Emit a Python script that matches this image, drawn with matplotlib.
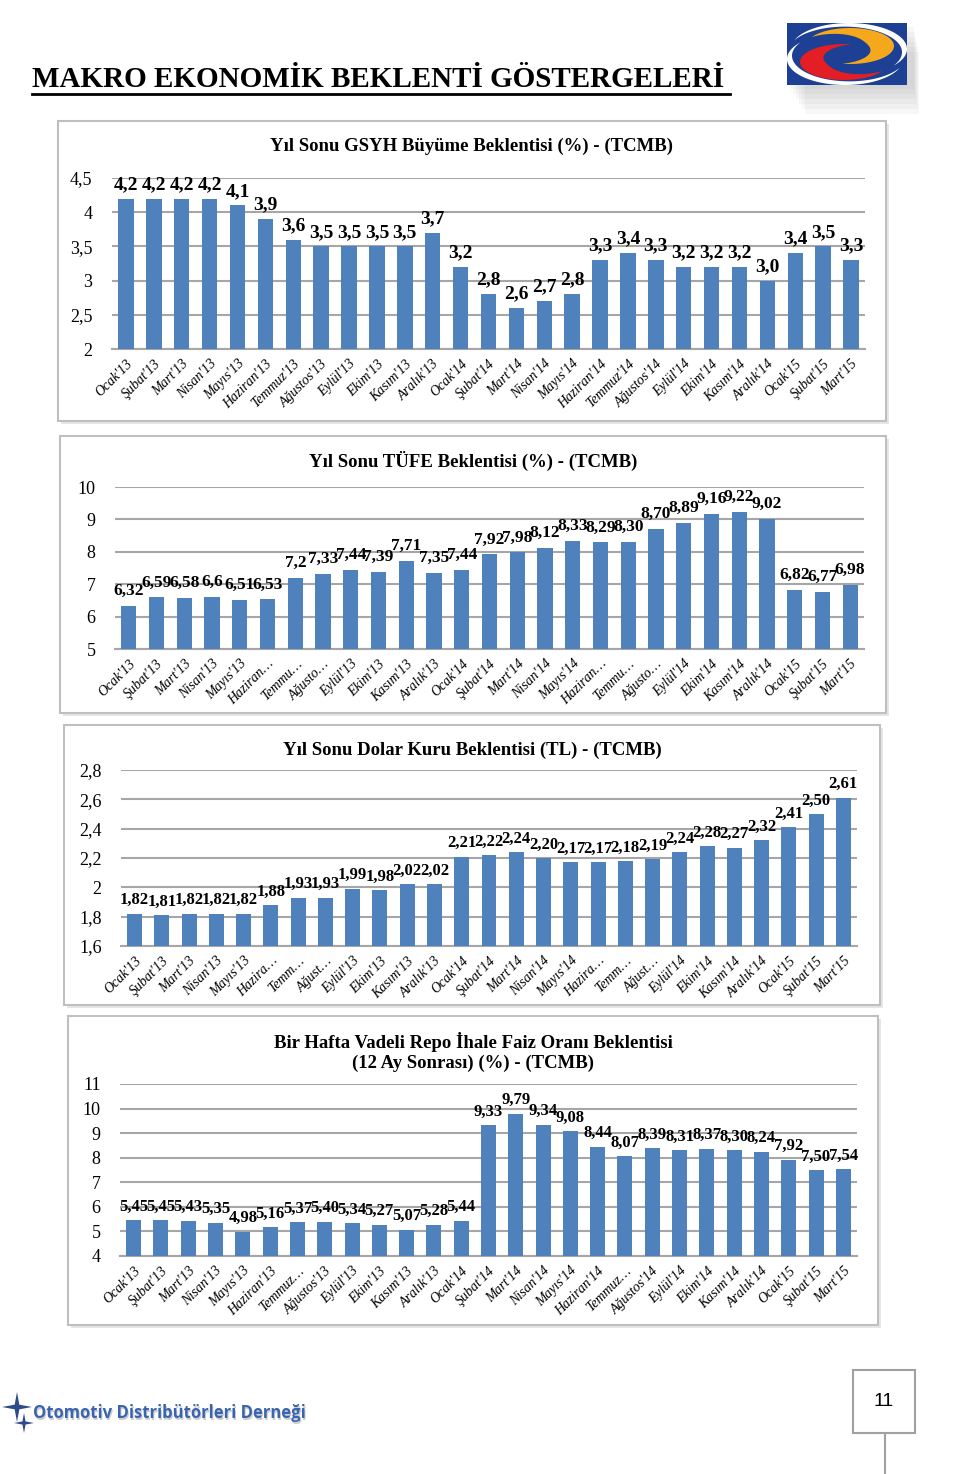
import math
import matplotlib
matplotlib.use("Agg")
import matplotlib.pyplot as plt
import numpy as np
from matplotlib.patches import Rectangle, Polygon
from matplotlib.ticker import FuncFormatter

W, H = 960, 1474

# ---- data ----
months_full = ["Ocak'13", "Şubat'13", "Mart'13", "Nisan'13", "Mayıs'13", "Haziran'13",
               "Temmuz'13", "Ağustos'13", "Eylül'13", "Ekim'13", "Kasım'13", "Aralık'13",
               "Ocak'14", "Şubat'14", "Mart'14", "Nisan'14", "Mayıs'14", "Haziran'14",
               "Temmuz'14", "Ağustos'14", "Eylül'14", "Ekim'14", "Kasım'14", "Aralık'14",
               "Ocak'15", "Şubat'15", "Mart'15"]
months_tufe = ["Ocak'13", "Şubat'13", "Mart'13", "Nisan'13", "Mayıs'13", "Haziran…",
               "Temmu…", "Ağusto…", "Eylül'13", "Ekim'13", "Kasım'13", "Aralık'13",
               "Ocak'14", "Şubat'14", "Mart'14", "Nisan'14", "Mayıs'14", "Haziran…",
               "Temmu…", "Ağusto…", "Eylül'14", "Ekim'14", "Kasım'14", "Aralık'14",
               "Ocak'15", "Şubat'15", "Mart'15"]
months_dolar = ["Ocak'13", "Şubat'13", "Mart'13", "Nisan'13", "Mayıs'13", "Hazira…",
                "Temm…", "Ağust…", "Eylül'13", "Ekim'13", "Kasım'13", "Aralık'13",
                "Ocak'14", "Şubat'14", "Mart'14", "Nisan'14", "Mayıs'14", "Hazira…",
                "Temm…", "Ağust…", "Eylül'14", "Ekim'14", "Kasım'14", "Aralık'14",
                "Ocak'15", "Şubat'15", "Mart'15"]
months_repo = ["Ocak'13", "Şubat'13", "Mart'13", "Nisan'13", "Mayıs'13", "Haziran'13",
               "Temmuz…", "Ağustos'13", "Eylül'13", "Ekim'13", "Kasım'13", "Aralık'13",
               "Ocak'14", "Şubat'14", "Mart'14", "Nisan'14", "Mayıs'14", "Haziran'14",
               "Temmuz…", "Ağustos'14", "Eylül'14", "Ekim'14", "Kasım'14", "Aralık'14",
               "Ocak'15", "Şubat'15", "Mart'15"]

gsyh = [4.2, 4.2, 4.2, 4.2, 4.1, 3.9, 3.6, 3.5, 3.5, 3.5, 3.5, 3.7, 3.2, 2.8, 2.6, 2.7,
        2.8, 3.3, 3.4, 3.3, 3.2, 3.2, 3.2, 3.0, 3.4, 3.5, 3.3]
gsyh_labels = ["4,2", "4,2", "4,2", "4,2", "4,1", "3,9", "3,6", "3,5", "3,5", "3,5", "3,5",
               "3,7", "3,2", "2,8", "2,6", "2,7", "2,8", "3,3", "3,4", "3,3", "3,2", "3,2",
               "3,2", "3,0", "3,4", "3,5", "3,3"]

tufe = [6.32, 6.59, 6.58, 6.6, 6.51, 6.53, 7.2, 7.33, 7.44, 7.39, 7.71, 7.35, 7.44, 7.92,
        7.98, 8.12, 8.33, 8.29, 8.30, 8.70, 8.89, 9.16, 9.22, 9.02, 6.82, 6.77, 6.98]
tufe_labels = ["6,32", "6,59", "6,58", "6,6", "6,51", "6,53", "7,2", "7,33", "7,44", "7,39",
               "7,71", "7,35", "7,44", "7,92", "7,98", "8,12", "8,33", "8,29", "8,30", "8,70",
               "8,89", "9,16", "9,22", "9,02", "6,82", "6,77", "6,98"]

dolar = [1.82, 1.81, 1.82, 1.82, 1.82, 1.88, 1.93, 1.93, 1.99, 1.98, 2.02, 2.02, 2.21, 2.22,
         2.24, 2.20, 2.17, 2.17, 2.18, 2.19, 2.24, 2.28, 2.27, 2.32, 2.41, 2.50, 2.61]

repo = [5.45, 5.45, 5.43, 5.35, 4.98, 5.16, 5.37, 5.40, 5.34, 5.27, 5.07, 5.28, 5.44, 9.33,
        9.79, 9.34, 9.08, 8.44, 8.07, 8.39, 8.31, 8.37, 8.30, 8.24, 7.92, 7.50, 7.54]

BAR = "#4F81BD"
GRID = "#A6A6A6"
SERIF = ["Liberation Serif", "DejaVu Serif"]

fig = plt.figure(figsize=(W / 100, H / 100), dpi=100)

# background axes in pixel coordinates
bg = fig.add_axes([0, 0, 1, 1])
bg.set_xlim(0, W)
bg.set_ylim(H, 0)
bg.axis('off')


def px_axes(left, top, right, bottom):
    return fig.add_axes([left / W, 1 - bottom / H, (right - left) / W, (bottom - top) / H])


def comma(v, pos):
    s = f"{v:.1f}".rstrip('0').rstrip('.')
    return s.replace('.', ',')


def frame(x0, y0, x1, y1):
    bg.add_patch(Rectangle((x0 + 3, y0 + 3), x1 - x0, y1 - y0, facecolor='#E6E6E6',
                           edgecolor='none', zorder=0))
    bg.add_patch(Rectangle((x0, y0), x1 - x0, y1 - y0, facecolor='white',
                           edgecolor='#BFBFBF', linewidth=1.5, zorder=1))


def bar_chart(fbox, box, values, labels, ticks, ylim, yticks, title, lblsize, pad, title_y):
    frame(*fbox)
    ax = px_axes(*box)
    ax.set_facecolor('none')
    x = range(len(values))
    bars = ax.bar(x, [v - ylim[0] for v in values], bottom=ylim[0], width=0.55,
                  color=BAR, zorder=3)
    ax.bar_label(bars, labels=labels, padding=pad, fontsize=lblsize, fontweight='bold',
                 family=SERIF, color='black')
    ax.set_xlim(-0.5, len(values) - 0.5)
    ax.set_ylim(*ylim)
    ax.set_yticks(yticks)
    ax.yaxis.set_major_formatter(FuncFormatter(comma))
    ax.grid(axis='y', color=GRID, linewidth=1.5, zorder=0)
    for s in ['top', 'right', 'left']:
        ax.spines[s].set_visible(False)
    ax.spines['bottom'].set_color(GRID)
    ax.spines['bottom'].set_linewidth(1.5)
    ax.tick_params(length=0)
    ax.tick_params(axis='y', pad=14, labelsize=13)
    ax.tick_params(axis='x', pad=6)
    for t in ax.get_yticklabels():
        t.set_family(SERIF)
    ax.set_xticks(list(x))
    ax.set_xticklabels(ticks, rotation=45, ha='right', rotation_mode='anchor',
                       fontstyle='italic', fontsize=10, family=SERIF)
    # title centred on the chart frame
    cx = (fbox[0] + fbox[2]) / 2
    bg.text(cx, title_y, title, ha='center', va='center', fontsize=13.5, fontweight='bold',
            family=SERIF, linespacing=1.15)
    return ax


# page title
bg.text(32, 87, "MAKRO EKONOMİK BEKLENTİ GÖSTERGELERİ", ha='left', va='baseline',
        fontsize=21, fontweight='bold', family=SERIF)
bg.plot([32, 730], [93.5, 93.5], color='black', linewidth=2)

# logo with soft shadow
for i in range(6):
    bg.add_patch(Rectangle((790 + 3 * i, 27 + 5 * i), 124 - 2 * i, 62, facecolor='#808080',
                           edgecolor='none', alpha=0.06, zorder=1))
lg = px_axes(787, 23, 907, 85)
lg.set_xlim(0, 120)
lg.set_ylim(0, 62)
lg.axis('off')
lg.add_patch(Rectangle((0, 0), 120, 62, facecolor='#1D3F94', edgecolor='none'))


def crescent(cx, cy, a, b, t0, t1, fmax, color):
    t = np.radians(np.linspace(t0, t1, 80))
    s = np.linspace(0, 1, 80)
    f = 1 - fmax * np.sin(np.pi * s)
    ox, oy = cx + a * np.cos(t), cy + b * np.sin(t)
    ix, iy = cx + f * a * np.cos(t), cy + f * b * np.sin(t)
    pts = np.column_stack([np.concatenate([ox, ix[::-1]]), np.concatenate([oy, iy[::-1]])])
    lg.add_patch(Polygon(pts, closed=True, facecolor=color, edgecolor='none'))


crescent(62, 36, 58, 26, 160, -40, 0.16, 'white')
crescent(58, 26, 58, 26, 340, 140, 0.16, 'white')
crescent(63, 39, 44, 18, 150, -100, 0.6, '#F5A81C')
crescent(57, 23, 44, 18, 330, 80, 0.6, '#E31E24')

# charts
bar_chart((58, 121, 886, 421), (112, 178, 865, 349), gsyh, gsyh_labels, months_full,
          (2, 4.5), [2, 2.5, 3, 3.5, 4, 4.5],
          "Yıl Sonu GSYH Büyüme Beklentisi (%) - (TCMB)", 14, 4, 146)

bar_chart((60, 436, 886, 713), (115, 487, 864, 649), tufe, tufe_labels, months_tufe,
          (5, 10), [5, 6, 7, 8, 9, 10],
          "Yıl Sonu TÜFE Beklentisi (%) - (TCMB)", 12.5, 5, 461)

bar_chart((64, 725, 880, 1005), (121, 770, 857, 946), dolar,
          [f"{v:.2f}".replace('.', ',') for v in dolar], months_dolar,
          (1.6, 2.8), [1.6, 1.8, 2.0, 2.2, 2.4, 2.6, 2.8],
          "Yıl Sonu Dolar Kuru Beklentisi (TL) - (TCMB)", 12, 4, 750)

bar_chart((68, 1016, 878, 1325), (120, 1084, 857, 1256), repo,
          [f"{v:.2f}".replace('.', ',') for v in repo], months_repo,
          (4, 11), [4, 5, 6, 7, 8, 9, 10, 11],
          "Bir Hafta Vadeli Repo İhale Faiz Oranı Beklentisi\n(12 Ay Sonrası) (%) - (TCMB)",
          12, 4, 1052)


# footer
def star(cx, cy, r, color):
    pts = []
    for k in range(8):
        ang = math.pi / 4 * k
        rr = r if k % 2 == 0 else r * 0.22
        pts.append((cx + rr * math.cos(ang), cy + rr * math.sin(ang)))
    bg.add_patch(Polygon(pts, closed=True, facecolor=color, edgecolor='none', zorder=3))


star(17, 1407, 15, '#2E4A8B')
star(24, 1423, 10, '#2E4A8B')
bg.text(34.5, 1414.5, "Otomotiv Distribütörleri Derneği", ha='left', va='center',
        fontsize=12, fontweight='bold', family=['Open Sans', 'DejaVu Sans'],
        color='#B8B8B8', alpha=0.7)
bg.text(33, 1413, "Otomotiv Distribütörleri Derneği", ha='left', va='center',
        fontsize=12, fontweight='bold', family=['Open Sans', 'DejaVu Sans'],
        color='#3A64B0')

bg.add_patch(Rectangle((853, 1370), 62, 63, facecolor='white', edgecolor='#A0A0A0',
                       linewidth=1.5, zorder=2))
bg.text(884, 1402, "11", ha='center', va='center', fontsize=14,
        family=['Liberation Sans', 'DejaVu Sans'])
bg.plot([885, 885], [1433, 1474], color='#A0A0A0', linewidth=1.5)

fig.savefig("out.png", dpi=100)
